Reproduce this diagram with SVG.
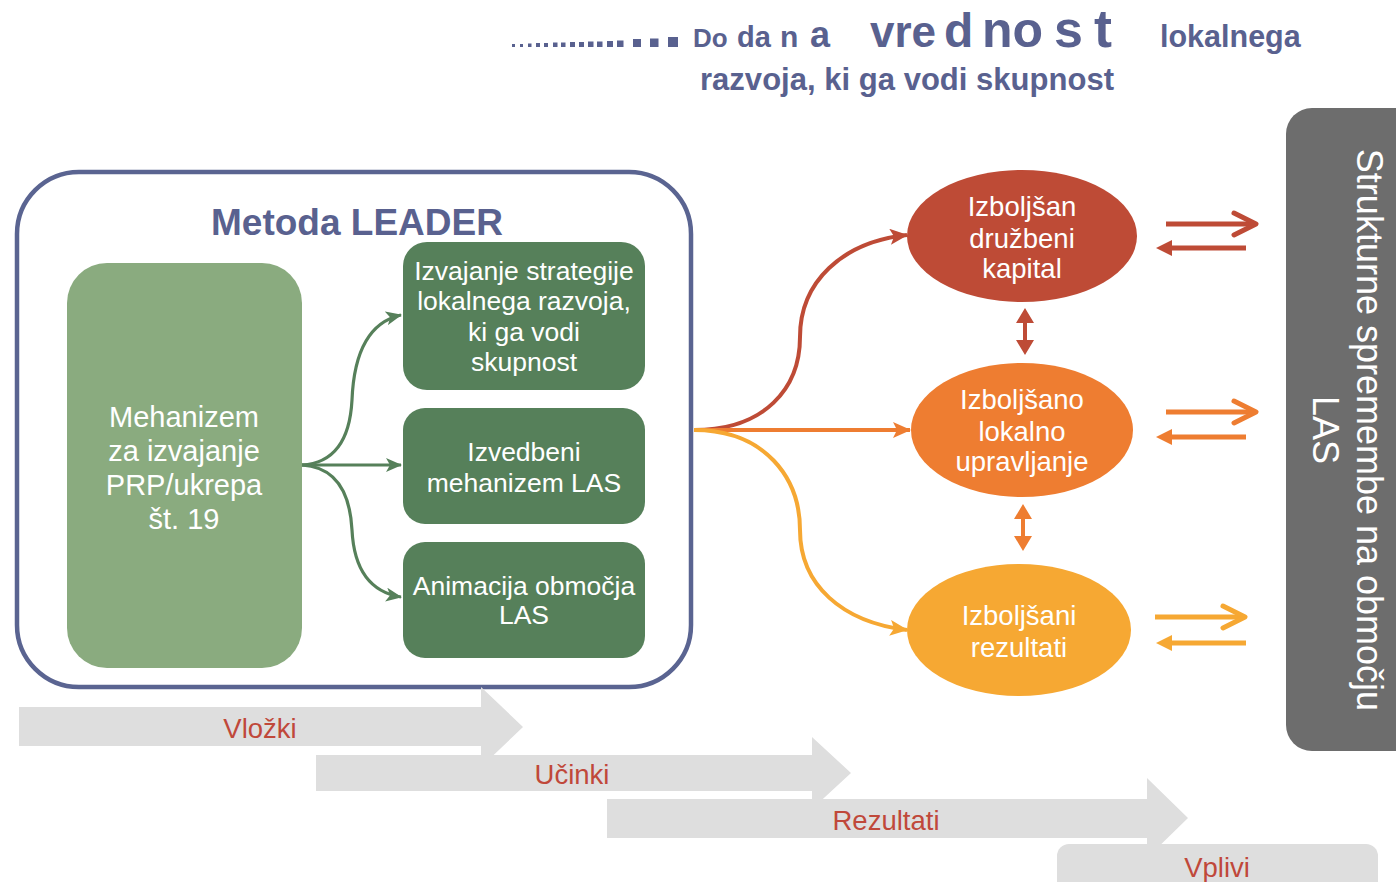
<svg xmlns="http://www.w3.org/2000/svg" width="1396" height="882" viewBox="0 0 1396 882">
<style>
text{font-family:"Liberation Sans",Arial,sans-serif}
.ttl{fill:#59618f;font-weight:bold}
.wt{fill:#ffffff;text-anchor:middle}
.lt{font-size:29px}
.gt{font-size:26.5px}
.et{font-size:27.5px}
.bt{fill:#c0483a;font-size:27.5px;text-anchor:middle}
.dot{fill:#59618f}
.band{fill:#dedede}
.gl{fill:none;stroke:#56805a;stroke-width:3.2}
</style>
<defs>
<marker id="ag" markerUnits="userSpaceOnUse" markerWidth="16" markerHeight="14" refX="15" refY="7" orient="auto"><path d="M0,0 L16,7 L0,14 L4,7 Z" fill="#56805a"/></marker>
<marker id="ar" markerUnits="userSpaceOnUse" markerWidth="18" markerHeight="16" refX="17" refY="8" orient="auto"><path d="M0,0 L18,8 L0,16 L4,8 Z" fill="#be4b36"/></marker>
<marker id="ao" markerUnits="userSpaceOnUse" markerWidth="18" markerHeight="16" refX="17" refY="8" orient="auto"><path d="M0,0 L18,8 L0,16 L4,8 Z" fill="#ee7d31"/></marker>
<marker id="ay" markerUnits="userSpaceOnUse" markerWidth="18" markerHeight="16" refX="17" refY="8" orient="auto"><path d="M0,0 L18,8 L0,16 L4,8 Z" fill="#f6a833"/></marker>
</defs>

<g id="title">
<rect class="dot" x="512" y="44" width="3" height="3"/>
<rect class="dot" x="520" y="44" width="3" height="3"/>
<rect class="dot" x="528" y="43.5" width="3.5" height="3.5"/>
<rect class="dot" x="536" y="43" width="4" height="4"/>
<rect class="dot" x="544" y="43" width="4" height="4"/>
<rect class="dot" x="553" y="42.5" width="4.5" height="4.5"/>
<rect class="dot" x="561" y="42.5" width="4.5" height="4.5"/>
<rect class="dot" x="570" y="42" width="5" height="5"/>
<rect class="dot" x="579" y="42" width="5" height="5"/>
<rect class="dot" x="588" y="41.5" width="5.5" height="5.5"/>
<rect class="dot" x="597" y="41.5" width="5.5" height="5.5"/>
<rect class="dot" x="607" y="41" width="6" height="6"/>
<rect class="dot" x="617" y="40.5" width="6.5" height="6.5"/>
<rect class="dot" x="633" y="39" width="8" height="8"/>
<rect class="dot" x="650" y="38.5" width="8.5" height="8.5"/>
<rect class="dot" x="668" y="37" width="10" height="10"/>
<text class="ttl" y="47"><tspan x="693" font-size="26">Do</tspan><tspan x="737" font-size="29">da</tspan><tspan x="780" font-size="30">n</tspan><tspan x="810" font-size="36">a</tspan><tspan x="870" font-size="44">vre</tspan><tspan x="944" font-size="48">d</tspan><tspan x="982" font-size="50">no</tspan><tspan x="1054" font-size="52">s</tspan><tspan x="1094" font-size="54">t</tspan><tspan x="1160" font-size="30.5">lokalnega</tspan></text>
<text class="ttl" x="700" y="90" font-size="31" textLength="414">razvoja, ki ga vodi skupnost</text>
</g>

<g id="leader">
<rect x="17" y="172" width="674" height="515" rx="62" fill="#ffffff" stroke="#5a6491" stroke-width="4.5"/>
<text class="ttl" x="357" y="235" font-size="37" text-anchor="middle">Metoda LEADER</text>
</g>

<g id="bands">
<polygon class="band" points="19,707 481,707 481,687 523,727 481,767 481,746 19,746"/>
<polygon class="band" points="316,755 812,755 812,737 851,773 812,809 812,791 316,791"/>
<polygon class="band" points="607,799 1147,799 1147,778 1188,818 1147,858 1147,838 607,838"/>
<rect class="band" x="1057" y="844" width="321" height="70" rx="12"/>
<text class="bt" x="260" y="738">Vložki</text>
<text class="bt" x="572" y="784">Učinki</text>
<text class="bt" x="886" y="830">Rezultati</text>
<text class="bt" x="1217" y="877">Vplivi</text>
</g>

<g id="mehanizem">
<rect x="67" y="263" width="235" height="405" rx="40" fill="#8aab7f"/>
<text class="wt lt"><tspan x="184" y="427">Mehanizem</tspan><tspan x="184" y="461">za izvajanje</tspan><tspan x="184" y="495">PRP/ukrepa</tspan><tspan x="184" y="529">št. 19</tspan></text>
</g>

<g id="strategija">
<rect x="403" y="242" width="242" height="148" rx="24" fill="#56805a"/>
<text class="wt gt"><tspan x="524" y="280">Izvajanje strategije</tspan><tspan x="524" y="310">lokalnega razvoja,</tspan><tspan x="524" y="341">ki ga vodi</tspan><tspan x="524" y="371">skupnost</tspan></text>
</g>

<g id="izvedbeni">
<rect x="403" y="408" width="242" height="116" rx="22" fill="#56805a"/>
<text class="wt gt"><tspan x="524" y="461">Izvedbeni</tspan><tspan x="524" y="492">mehanizem LAS</tspan></text>
</g>

<g id="animacija">
<rect x="403" y="542" width="242" height="116" rx="22" fill="#56805a"/>
<text class="wt gt"><tspan x="524" y="595">Animacija območja</tspan><tspan x="524" y="624">LAS</tspan></text>
</g>

<g id="kapital">
<ellipse cx="1022" cy="236" rx="115" ry="66" fill="#be4b36"/>
<text class="wt et"><tspan x="1022" y="216">Izboljšan</tspan><tspan x="1022" y="248">družbeni</tspan><tspan x="1022" y="278">kapital</tspan></text>
</g>

<g id="upravljanje">
<ellipse cx="1022" cy="430" rx="111" ry="67" fill="#ee7d31"/>
<text class="wt et"><tspan x="1022" y="409">Izboljšano</tspan><tspan x="1022" y="441">lokalno</tspan><tspan x="1022" y="471">upravljanje</tspan></text>
</g>

<g id="rezultati">
<ellipse cx="1019" cy="630" rx="112" ry="66" fill="#f6a833"/>
<text class="wt et"><tspan x="1019" y="625">Izboljšani</tspan><tspan x="1019" y="657">rezultati</tspan></text>
</g>

<g id="strukturne">
<rect x="1286" y="108" width="150" height="643" rx="26" fill="#6d6d6d"/>
<g transform="translate(1357,430) rotate(90)">
<text class="wt" x="0" y="0" font-size="36">Strukturne spremembe na območju</text>
<text class="wt" x="0" y="44" font-size="36">LAS</text>
</g>
</g>

<g id="connectors">
<path class="gl" d="M302,465 C336,463 350,438 352,400 C354,350 370,322 401,315" marker-end="url(#ag)"/>
<path class="gl" d="M302,465 L401,465" marker-end="url(#ag)"/>
<path class="gl" d="M302,465 C336,467 350,492 352,530 C354,570 370,592 401,597" marker-end="url(#ag)"/>

<path d="M694,430 C765,430 800,388 800,337 C800,282 842,242 907,235" fill="none" stroke="#be4b36" stroke-width="4" marker-end="url(#ar)"/>
<path d="M694,430 L910,430" fill="none" stroke="#ee7d31" stroke-width="4" marker-end="url(#ao)"/>
<path d="M694,430 C765,430 800,478 800,530 C800,585 842,622 907,630" fill="none" stroke="#f6a833" stroke-width="4" marker-end="url(#ay)"/>

<polygon points="1025,308 1034,323 1027,323 1027,340 1034,340 1025,355 1016,340 1023,340 1023,323 1016,323" fill="#be4b36"/>
<polygon points="1023,504 1032,519 1025,519 1025,536 1032,536 1023,551 1014,536 1021,536 1021,519 1014,519" fill="#ee7d31"/>

<g stroke="#be4b36" stroke-width="5" fill="none" stroke-linecap="round" stroke-linejoin="round">
<line x1="1166" y1="224" x2="1254" y2="224" stroke-linecap="butt"/>
<path d="M1234,213 L1256,224 L1234,235"/>
<line x1="1246" y1="248" x2="1168" y2="248" stroke-linecap="butt"/>
</g>
<polygon points="1156,248 1172,240 1172,256" fill="#be4b36"/>

<g stroke="#ee7d31" stroke-width="5" fill="none" stroke-linecap="round" stroke-linejoin="round">
<line x1="1166" y1="412" x2="1254" y2="412" stroke-linecap="butt"/>
<path d="M1234,401 L1256,412 L1234,423"/>
<line x1="1246" y1="437" x2="1168" y2="437" stroke-linecap="butt"/>
</g>
<polygon points="1156,437 1172,429 1172,445" fill="#ee7d31"/>

<g stroke="#f6a833" stroke-width="5" fill="none" stroke-linecap="round" stroke-linejoin="round">
<line x1="1155" y1="617" x2="1243" y2="617" stroke-linecap="butt"/>
<path d="M1223,606 L1245,617 L1223,628"/>
<line x1="1246" y1="643" x2="1168" y2="643" stroke-linecap="butt"/>
</g>
<polygon points="1156,643 1172,635 1172,651" fill="#f6a833"/>
</g>
</svg>
